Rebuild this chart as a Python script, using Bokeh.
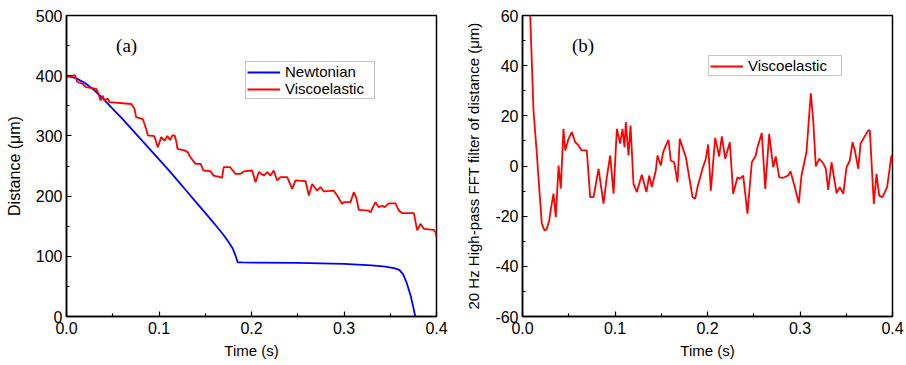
from bokeh.plotting import figure
from bokeh.layouts import row
from bokeh.models import Range1d, FixedTicker, PrintfTickFormatter, Label
from bokeh.embed import file_html
from bokeh.resources import INLINE

# ---------------- data: panel (a) ----------------
newt_t = [0.0, 0.01, 0.02, 0.03, 0.04, 0.05, 0.06, 0.07, 0.08, 0.09, 0.10, 0.11, 0.12,
          0.13, 0.14, 0.15, 0.16, 0.17, 0.175, 0.18, 0.183, 0.185, 0.19, 0.20, 0.25,
          0.30, 0.33, 0.345, 0.355, 0.36, 0.364, 0.368, 0.372, 0.375, 0.377]
newt_d = [400, 396, 388, 376, 361, 345, 329, 312, 295, 278, 261, 244, 226,
          208, 190, 172, 154, 135, 124, 112, 100, 90, 89.8, 89.5, 89,
          87.5, 85, 83, 80, 77, 70, 55, 35, 15, 0]

visc_t = [0.0, 0.004, 0.009, 0.0115, 0.0177, 0.021, 0.032, 0.034, 0.0368, 0.039, 0.041,
          0.0447, 0.0465, 0.07, 0.0735, 0.0753, 0.0825, 0.086, 0.088, 0.095, 0.0987,
          0.1024, 0.106, 0.109, 0.112, 0.1145, 0.1168, 0.1185, 0.12, 0.1276, 0.131,
          0.134, 0.1395, 0.145, 0.148, 0.1557, 0.159, 0.1665, 0.168, 0.17, 0.177,
          0.1827, 0.188, 0.1917, 0.2007, 0.2043, 0.208, 0.2133, 0.217, 0.2205, 0.224,
          0.2278, 0.2313, 0.2386, 0.244, 0.2476, 0.2584, 0.262, 0.2656, 0.271, 0.2746,
          0.278, 0.289, 0.2926, 0.298, 0.2998, 0.307, 0.3106, 0.3132, 0.316, 0.3268,
          0.3286, 0.334, 0.3376, 0.3413, 0.3438, 0.3485, 0.3557, 0.3593, 0.363, 0.3755,
          0.3791, 0.3827, 0.3863, 0.397, 0.399, 0.4]
visc_d = [398, 399, 401, 390, 386.5, 381, 378, 372.5, 359, 367, 359,
          362, 356, 353, 345, 331, 328, 312, 301, 299.5, 281,
          298, 292, 300, 293, 301, 301, 292, 278.5, 276, 273,
          264.6, 253.6, 253.6, 242.5, 241.4, 234, 231.4, 230, 248, 248,
          237, 237, 241, 242.5, 223, 240, 234, 240, 234, 242.5,
          226, 231.4, 231.4, 212, 226, 225, 201, 220, 209, 215,
          208, 209, 201, 187, 190, 190, 206.5, 198, 177, 176,
          173, 190, 181.6, 184, 181.6, 188, 188, 176, 171.6, 171.6,
          143, 154, 145.7, 144, 140, 132]

# ---------------- data: panel (b) ----------------
hp_t = [0.005, 0.0119, 0.0155, 0.018, 0.0209, 0.0238, 0.0263, 0.0289, 0.031, 0.0335,
        0.036, 0.039, 0.0414, 0.0443, 0.0462, 0.0497, 0.0533, 0.057, 0.0605, 0.0641,
        0.0695, 0.0732, 0.0768, 0.0822, 0.0876, 0.0911, 0.0948, 0.0984, 0.102, 0.1056,
        0.1081, 0.1103, 0.1117, 0.1146, 0.1168, 0.12, 0.1236, 0.129, 0.134, 0.137,
        0.1398, 0.1441, 0.146, 0.1495, 0.1521, 0.155, 0.1578, 0.1603, 0.164, 0.1676,
        0.17, 0.1748, 0.1766, 0.1838, 0.1867, 0.1892, 0.1946, 0.1982, 0.2007, 0.2036,
        0.2083, 0.2126, 0.2155, 0.2191, 0.2241, 0.2278, 0.2324, 0.2349, 0.2386, 0.2432,
        0.2479, 0.2522, 0.254, 0.2587, 0.2624, 0.2667, 0.271, 0.2738, 0.2775, 0.2818,
        0.2873, 0.2897, 0.2944, 0.2987, 0.3016, 0.307, 0.3095, 0.3117, 0.3143, 0.3171,
        0.3208, 0.3251, 0.3279, 0.3305, 0.3341, 0.3395, 0.3431, 0.3468, 0.3503, 0.3539,
        0.3568, 0.3593, 0.363, 0.3654, 0.369, 0.3738, 0.3755, 0.3798, 0.3827, 0.3856,
        0.3892, 0.3942, 0.3989, 0.4]
hp_v = [95, 22, 4.9, -8.4, -23, -25.7, -25, -21.7, -16.4, -11,
        -20.4, 0.2, -9, 14.8, 6.2, 10.8, 13.5, 9.5, 8.2, 6.2,
        6.2, -12.4, -12.4, -1.1, -15, -4.5, 4.2, -11, 14.8, 8.9,
        14.8, 7.5, 17.5, 4.2, 16.1, -7.1, -10.4, -3.5, -10.4, -3.8,
        -8.4, -1.8, 4.2, 0.2, 5.5, 8.2, 10.4, 2.2, 1.5, -6.5,
        10.8, 5.5, 3.5, -12.4, -13.1, -8.4, -1.1, 2.9, 8.6, -9.8,
        11.2, 3.8, 11.8, 2.9, 9.5, -11.1, -4.5, -5.1, -3.8, -19,
        1.5, 4.2, 7.5, 13.1, -9.1, 12.8, -0.5, 3.8, -4.5, -4.7,
        -3.8, -2.1, -8.4, -14.8, -3.8, 5.5, 18.1, 29, 18.1, -0.2,
        2.9, 1.1, -1.1, -9.5, 1.5, -10.8, -8.4, -11.1, -0.5, 2.2,
        9.5, 6.2, -1.1, 8.9, 11.2, 14.2, 14.2, -15.1, -3.1, -11.8,
        -12.4, -8.4, 4.2, 1]

x_ticks = [0.0, 0.1, 0.2, 0.3, 0.4]
x_minor = [0.05, 0.15, 0.25, 0.35]
a_ticks = [0, 100, 200, 300, 400, 500]
a_minor = [50, 150, 250, 350, 450]
b_ticks = [-60, -40, -20, 0, 20, 40, 60]
b_minor = [-50, -30, -10, 10, 30, 50]

SANS = "Liberation Sans"
SERIF = "Liberation Serif"


def style(p, yticks, yminor, ylabel, ylabel_size, ystand):
    p.xgrid.visible = False
    p.ygrid.visible = False
    p.outline_line_color = "black"
    p.outline_line_width = 1.5
    p.background_fill_color = "white"
    p.border_fill_color = "white"
    p.xaxis.ticker = FixedTicker(ticks=x_ticks, minor_ticks=x_minor)
    p.yaxis.ticker = FixedTicker(ticks=yticks, minor_ticks=yminor)
    p.xaxis.formatter = PrintfTickFormatter(format="%.1f")
    p.yaxis.formatter = PrintfTickFormatter(format="%d")
    p.xaxis.axis_label = "Time (s)"
    p.yaxis.axis_label = ylabel
    for ax in (p.xaxis, p.yaxis):
        ax.axis_line_color = "black"
        ax.axis_line_width = 1.5
        ax.major_tick_line_color = "black"
        ax.minor_tick_line_color = "black"
        ax.major_tick_line_width = 1.2
        ax.minor_tick_line_width = 1.2
        ax.major_tick_in = 5
        ax.major_tick_out = 0
        ax.minor_tick_in = 3
        ax.minor_tick_out = 0
        ax.major_label_text_font = SANS
        ax.major_label_text_font_size = "16px"
        ax.major_label_text_color = "black"
        ax.major_label_standoff = 5
        ax.axis_label_text_font = SANS
        ax.axis_label_text_font_style = "normal"
        ax.axis_label_text_color = "black"
    p.xaxis.axis_label_text_font_size = "15px"
    p.xaxis.axis_label_standoff = 5
    p.yaxis.axis_label_text_font_size = ylabel_size
    p.yaxis.axis_label_standoff = ystand
    p.yaxis.major_label_standoff = 4


def style_legend(p, loc, lw):
    lg = p.legend[0]
    lg.location = loc
    lg.label_text_font = SANS
    lg.label_text_font_size = "15px"
    lg.label_text_color = "black"
    lg.glyph_width = 33
    lg.glyph_height = 14
    lg.label_height = 14
    lg.label_width = lw
    lg.label_standoff = 5
    lg.spacing = 0
    lg.padding = 1
    lg.margin = 0
    lg.border_line_color = "#8a8a8a"
    lg.border_line_width = 1
    lg.background_fill_color = "white"
    lg.background_fill_alpha = 1.0


# ---------------- panel (a) ----------------
pa = figure(width=453, height=365, output_backend="svg", toolbar_location=None,
            x_range=Range1d(0, 0.4), y_range=Range1d(0, 500),
            min_border_left=66, min_border_right=17, min_border_top=15, min_border_bottom=49)
pa.line(newt_t, newt_d, line_color="#0000ff", line_width=1.8, legend_label="Newtonian")
pa.line(visc_t, visc_d, line_color="#ff0000", line_width=1.8, legend_label="Viscoelastic")
style(pa, a_ticks, a_minor, "Distance (\u03bcm)", "16px", 10)
style_legend(pa, (179, 217), 88)
pa.add_layout(Label(x=0.065, y=450, text="(a)", text_font=SERIF, text_font_size="19px",
                    text_align="center", text_baseline="middle", text_color="black"))

# ---------------- panel (b) ----------------
pb = figure(width=453, height=365, output_backend="svg", toolbar_location=None,
            x_range=Range1d(0, 0.4), y_range=Range1d(-60, 60),
            min_border_left=69, min_border_right=14, min_border_top=15, min_border_bottom=49)
pb.line(hp_t, hp_v, line_color="#ff0000", line_width=1.8, legend_label="Viscoelastic")
style(pb, b_ticks, b_minor, "20 Hz High-pass FFT filter of distance (\u03bcm)", "15px", 10)
style_legend(pb, (186, 240), 92)
pb.add_layout(Label(x=0.0655, y=48, text="(b)", text_font=SERIF, text_font_size="19px",
                    text_align="center", text_baseline="middle", text_color="black"))

layout = row(pa, pb, spacing=0)
open("out.html", "w").write(file_html(layout, INLINE))
